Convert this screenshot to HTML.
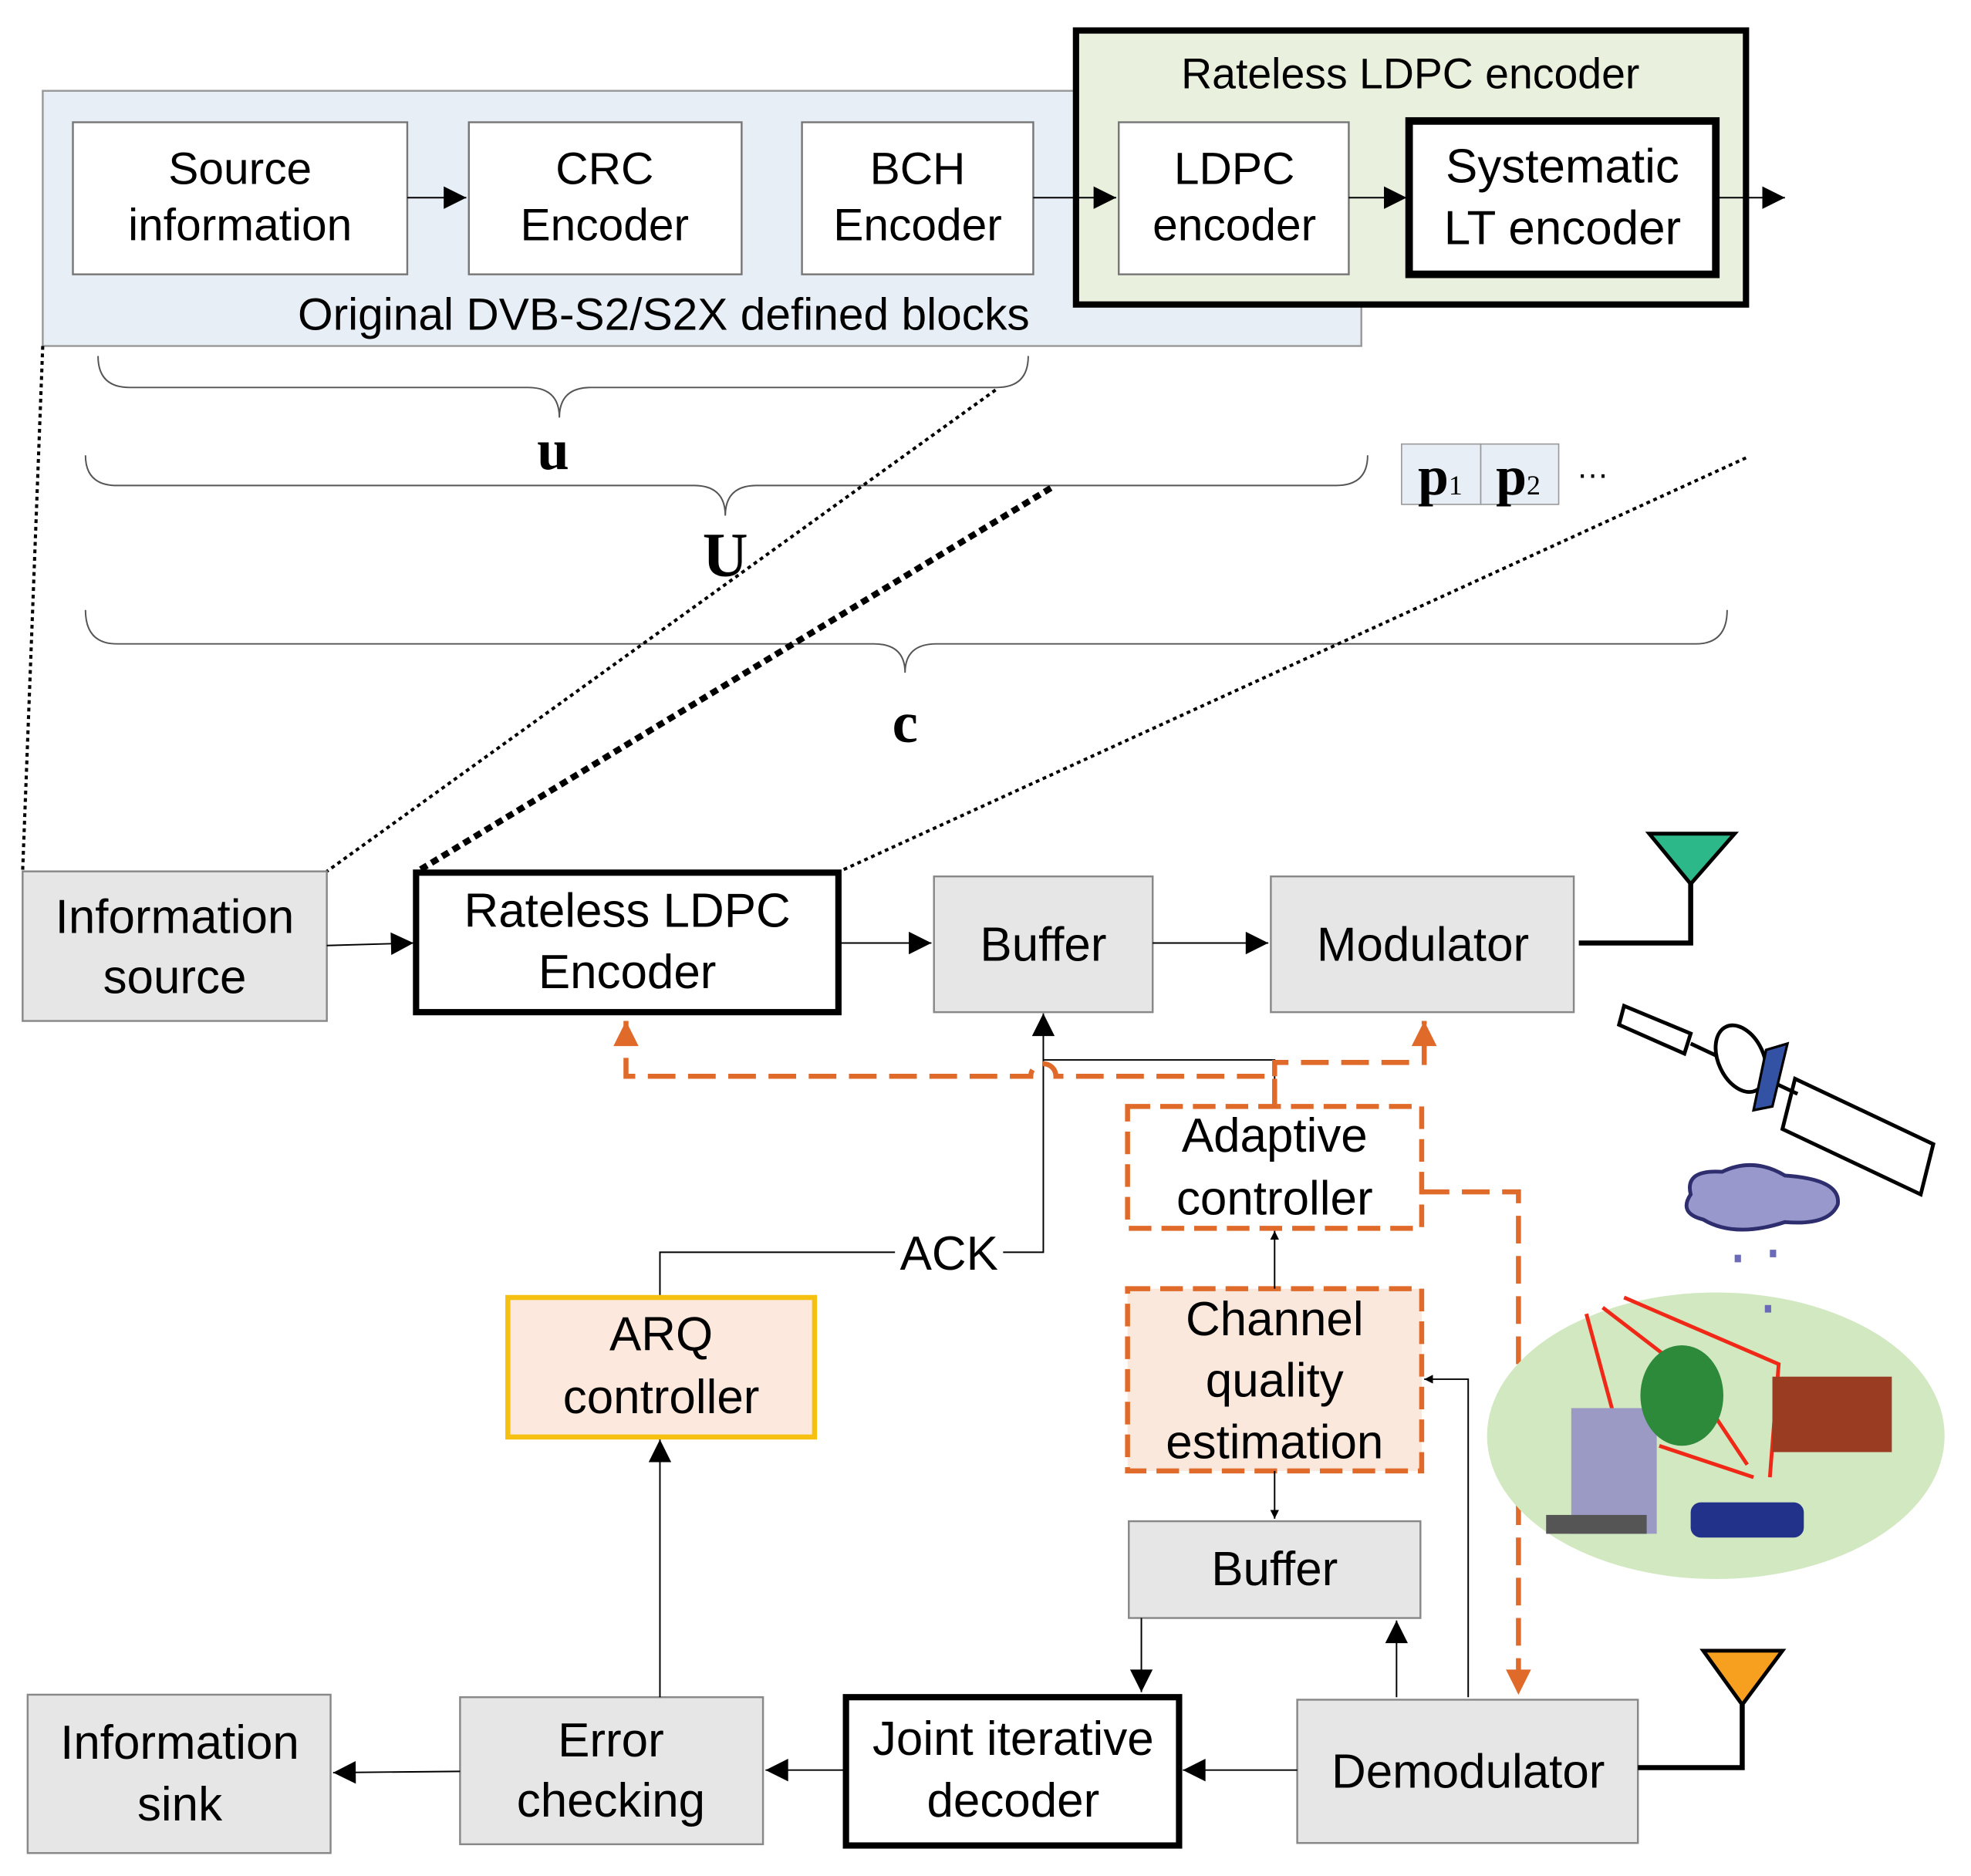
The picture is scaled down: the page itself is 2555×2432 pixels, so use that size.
<!DOCTYPE html>
<html><head><meta charset="utf-8"><style>html,body{margin:0;padding:0;background:#fff}svg{display:block}</style></head><body>
<svg width="2555" height="2432" viewBox="0 0 1568 1492" xmlns="http://www.w3.org/2000/svg" font-family="Liberation Sans, sans-serif">
<defs>
<marker id="a" viewBox="0 0 10 10" refX="10" refY="5" markerWidth="7" markerHeight="7" orient="auto" markerUnits="userSpaceOnUse"><path d="M0,0 L10,5 L0,10z" fill="#000"/></marker>
<marker id="b" viewBox="0 0 10 10" refX="10" refY="5" markerWidth="22" markerHeight="18" orient="auto" markerUnits="userSpaceOnUse"><path d="M0,0 L10,5 L0,10z" fill="#000"/></marker>
<marker id="o" viewBox="0 0 10 10" refX="10" refY="5" markerWidth="22" markerHeight="20" orient="auto" markerUnits="userSpaceOnUse"><path d="M0,0 L10,5 L0,10z" fill="#e06a2a"/></marker>
</defs>
<rect x="34" y="72" width="1049" height="203" fill="#e8eef5" stroke="#999" stroke-width="1.5"/>
<rect x="856" y="24" width="533" height="218" fill="#e9f0dd" stroke="#000" stroke-width="5"/>
<text x="1122" y="70" font-size="34" text-anchor="middle">Rateless LDPC encoder</text>
<g fill="#fff" stroke="#777" stroke-width="1.5">
<rect x="58" y="97" width="266" height="121"/><rect x="373" y="97" width="217" height="121"/><rect x="638" y="97" width="184" height="121"/><rect x="890" y="97" width="183" height="121"/>
</g>
<rect x="1121" y="96" width="244" height="122" fill="#fff" stroke="#000" stroke-width="6"/>
<g font-size="36" text-anchor="middle">
<text x="191" y="146">Source</text><text x="191" y="191">information</text>
<text x="481" y="146">CRC</text><text x="481" y="191">Encoder</text>
<text x="730" y="146">BCH</text><text x="730" y="191">Encoder</text>
<text x="982" y="146">LDPC</text><text x="982" y="191">encoder</text>
<text x="1243" y="145" font-size="38">Systematic</text><text x="1243" y="194" font-size="38">LT encoder</text>
<text x="528" y="262">Original DVB-S2/S2X defined blocks</text>
</g>
<g stroke="#000" stroke-width="1.2" fill="none">
<line x1="324" y1="157" x2="371" y2="157" marker-end="url(#b)"/>
<line x1="822" y1="157" x2="888" y2="157" marker-end="url(#b)"/>
<line x1="1073" y1="157" x2="1119" y2="157" marker-end="url(#b)"/>
<line x1="1365" y1="157" x2="1420" y2="157" marker-end="url(#b)"/>
<path d="M78,283 Q78,308 103,308 L420,308 Q445,308 445,332 Q445,308 470,308 L793,308 Q818,308 818,283" stroke="#555"/>
<path d="M68,362 Q68,386 93,386 L552,386 Q577,386 577,410 Q577,386 602,386 L1063,386 Q1088,386 1088,362" stroke="#555"/>
<path d="M68,485 Q68,512 93,512 L695,512 Q720,512 720,535 Q720,512 745,512 L1349,512 Q1374,512 1374,485" stroke="#555"/>
</g>
<g font-family="Liberation Serif, serif" font-weight="bold" text-anchor="middle">
<text x="440" y="373" font-size="46">u</text><text x="577" y="458" font-size="50">U</text><text x="720" y="590" font-size="46">c</text>
</g>
<rect x="1115" y="353" width="63" height="48" fill="#e8eef5" stroke="#999"/><rect x="1178" y="353" width="62" height="48" fill="#e8eef5" stroke="#999"/>
<g font-family="Liberation Serif, serif" font-weight="bold"><text x="1128" y="393" font-size="44">p<tspan font-size="22" font-weight="normal">1</tspan></text><text x="1190" y="393" font-size="44">p<tspan font-size="22" font-weight="normal">2</tspan></text></g>
<text x="1254" y="380" font-size="26">…</text>
<g stroke="#000" fill="none">
<line x1="34" y1="275" x2="18" y2="693" stroke-width="2.5" stroke-dasharray="3,3"/>
<line x1="792" y1="310" x2="260" y2="693" stroke-width="2.5" stroke-dasharray="3,3"/>
<line x1="836" y1="388" x2="332" y2="693" stroke-width="5" stroke-dasharray="6,4"/>
<line x1="1389" y1="364" x2="668" y2="693" stroke-width="2.5" stroke-dasharray="3,3"/>
</g>
<g fill="#e6e6e6" stroke="#888" stroke-width="1.5">
<rect x="18" y="693" width="242" height="119"/><rect x="743" y="697" width="174" height="108"/><rect x="1011" y="697" width="241" height="108"/>
<rect x="898" y="1210" width="232" height="77"/><rect x="366" y="1350" width="241" height="117"/><rect x="22" y="1348" width="241" height="126"/><rect x="1032" y="1352" width="271" height="114"/>
</g>
<rect x="331" y="694" width="336" height="111" fill="#fff" stroke="#000" stroke-width="5"/>
<rect x="673" y="1350" width="265" height="118" fill="#fff" stroke="#000" stroke-width="5"/>
<rect x="404" y="1032" width="244" height="111" fill="#fce8dc" stroke="#f5c010" stroke-width="4"/>
<rect x="897" y="880" width="234" height="97" fill="#fff" stroke="#e06a2a" stroke-width="4" stroke-dasharray="18,8"/>
<rect x="897" y="1025" width="234" height="145" fill="#fbe8dc" stroke="#e06a2a" stroke-width="4" stroke-dasharray="18,8"/>
<g font-size="38" text-anchor="middle">
<text x="139" y="742">Information</text><text x="139" y="790">source</text>
<text x="499" y="737">Rateless LDPC</text><text x="499" y="786">Encoder</text>
<text x="830" y="764">Buffer</text><text x="1132" y="764">Modulator</text>
<text x="1014" y="916">Adaptive</text><text x="1014" y="966">controller</text>
<text x="1014" y="1062">Channel</text><text x="1014" y="1111">quality</text><text x="1014" y="1160">estimation</text>
<text x="526" y="1074">ARQ</text><text x="526" y="1124">controller</text>
<text x="1014" y="1261">Buffer</text>
<text x="486" y="1397">Error</text><text x="486" y="1445">checking</text>
<text x="143" y="1399">Information</text><text x="143" y="1448">sink</text>
<text x="806" y="1396">Joint iterative</text><text x="806" y="1445">decoder</text>
<text x="1168" y="1422">Demodulator</text>
<text x="755" y="1010">ACK</text>
</g>
<g stroke="#000" stroke-width="1.2" fill="none">
<line x1="260" y1="752" x2="329" y2="750" marker-end="url(#b)"/>
<line x1="667" y1="750" x2="741" y2="750" marker-end="url(#b)"/>
<line x1="917" y1="750" x2="1009" y2="750" marker-end="url(#b)"/>
<path d="M525,1030 L525,996 L712,996 M798,996 L830,996 L830,810" marker-end="url(#a)"/>
<line x1="830" y1="808" x2="830" y2="806" marker-end="url(#b)"/>
<path d="M830,843 L1014,843 L1014,880"/>
<line x1="1014" y1="1025" x2="1014" y2="979" marker-end="url(#a)"/>
<line x1="1014" y1="1170" x2="1014" y2="1208" marker-end="url(#a)"/>
<line x1="908" y1="1287" x2="908" y2="1346" marker-end="url(#b)"/>
<line x1="1111" y1="1350" x2="1111" y2="1289" marker-end="url(#b)"/>
<path d="M1168,1350 L1168,1097 L1133,1097" marker-end="url(#a)"/>
<line x1="1032" y1="1408" x2="941" y2="1408" marker-end="url(#b)"/>
<line x1="673" y1="1408" x2="609" y2="1408" marker-end="url(#b)"/>
<line x1="366" y1="1409" x2="265" y2="1410" marker-end="url(#b)"/>
<line x1="525" y1="1350" x2="525" y2="1145" marker-end="url(#b)"/>
</g>
<g stroke="#e06a2a" stroke-width="4" fill="none" stroke-dasharray="22,10">
<path d="M1014,880 L1014,856 L840,856 A10,10 0 0 0 820,856 L498,856 L498,812" marker-end="url(#o)"/>
<path d="M1014,856 L1014,845 L1133,845 L1133,812" marker-end="url(#o)"/>
<path d="M1131,948 L1208,948 L1208,1348" marker-end="url(#o)"/>
</g>
<path d="M1256,750 L1345,750 L1345,702" stroke="#000" stroke-width="4" fill="none"/>
<polygon points="1312,663 1380,663 1345,703" fill="#2db88a" stroke="#000" stroke-width="3"/>
<path d="M1303,1406 L1386,1406 L1386,1356" stroke="#000" stroke-width="4" fill="none"/>
<polygon points="1355,1313 1418,1313 1386,1356" fill="#f7a020" stroke="#000" stroke-width="3"/>
<ellipse cx="1365" cy="1142" rx="182" ry="114" fill="#d2e8c0"/>
<g stroke="#000" stroke-width="3" fill="#fff">
<polygon points="1292,800 1345,822 1340,838 1288,815"/>
<polygon points="1428,858 1538,910 1528,950 1418,898"/>
<line x1="1345" y1="830" x2="1430" y2="870"/>
<ellipse cx="1385" cy="842" rx="18" ry="28" transform="rotate(-25 1385 842)"/>
</g>
<polygon points="1405,835 1422,830 1410,880 1395,883" fill="#3352a3" stroke="#000" stroke-width="2"/>
<path d="M1345,950 Q1340,930 1370,932 Q1395,920 1420,935 Q1465,938 1462,958 Q1455,975 1420,972 Q1380,985 1355,970 Q1335,965 1345,950z" fill="#9898cc" stroke="#2e2e6e" stroke-width="3"/>
<g fill="#6a6ab8"><rect x="1380" y="998" width="5" height="6"/><rect x="1408" y="994" width="5" height="6"/><rect x="1404" y="1038" width="5" height="6"/></g>
<g stroke="#f02818" stroke-width="3" fill="none">
<line x1="1262" y1="1045" x2="1285" y2="1130"/>
<path d="M1275,1040 L1340,1090 L1390,1165"/><path d="M1292,1032 L1415,1085 L1408,1175"/>
<line x1="1320" y1="1150" x2="1395" y2="1175"/>
</g>
<rect x="1250" y="1120" width="68" height="100" fill="#9a9ac4"/>
<rect x="1230" y="1205" width="80" height="15" fill="#555"/>
<ellipse cx="1338" cy="1110" rx="33" ry="40" fill="#2c8a3a"/>
<rect x="1410" y="1095" width="95" height="60" fill="#9a3c22"/>
<rect x="1345" y="1195" width="90" height="28" rx="8" fill="#22328a"/>
</svg>
</body></html>
